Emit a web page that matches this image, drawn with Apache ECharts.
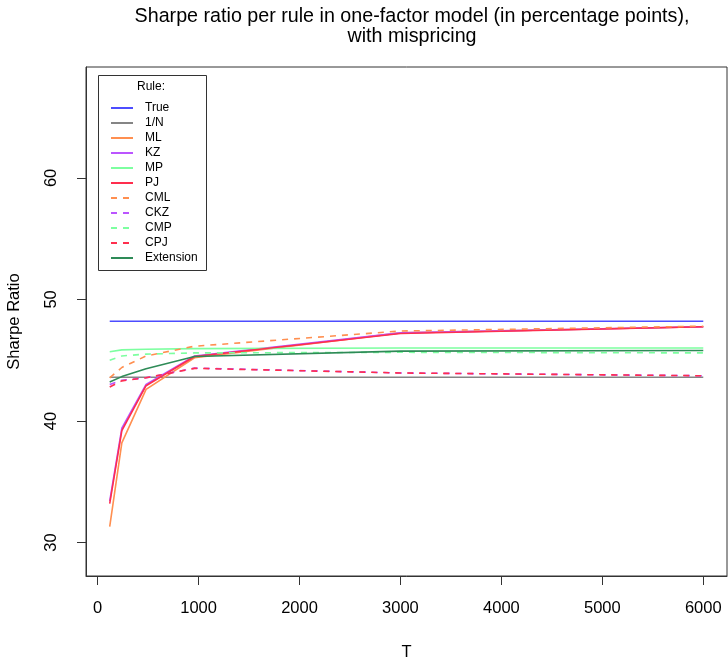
<!DOCTYPE html>
<html>
<head>
<meta charset="utf-8">
<script src="https://cdn.jsdelivr.net/npm/echarts@6/dist/echarts.min.js"></script>
<style>html,body{margin:0;padding:0;background:#fff}#c{width:728px;height:658px}</style>
</head>
<body>
<div id="c"></div>
<script>
const T = [120, 240, 480, 960, 3000, 6000];
const xTicks = [0, 1000, 2000, 3000, 4000, 5000, 6000];
const yTicks = [30, 40, 50, 60];
const TRUE_SR = [48.2, 48.2, 48.2, 48.2, 48.2, 48.2];
const ONE_N = [43.6, 43.6, 43.6, 43.6, 43.6, 43.6];
const ML  = [31.3, 38.2, 42.6, 45.2, 47.25, 47.75];
const KZ  = [33.4, 39.4, 43.0, 45.35, 47.25, 47.75];
const MP  = [45.7, 45.85, 45.9, 45.95, 46.0, 46.0];
const PJ  = [33.2, 39.2, 42.9, 45.3, 47.2, 47.75];
const CML = [43.55, 44.4, 45.35, 46.15, 47.4, 47.8];
const CKZ = [43.0, 43.35, 43.55, 44.35, 43.95, 43.72];
const CMP = [45.0, 45.35, 45.5, 45.6, 45.65, 45.6];
const CPJ = [42.8, 43.3, 43.55, 44.33, 43.95, 43.72];
const EXT = [43.2, 43.65, 44.3, 45.3, 45.75, 45.8];

const FONT = 'Liberation Sans, Arial, sans-serif';
const defs = [
  ['True', TRUE_SR, '#4d4dff', 'solid'],
  ['1/N', ONE_N, '#858585', 'solid'],
  ['ML', ML, '#ff8f50', 'solid'],
  ['KZ', KZ, '#bb55ff', 'solid'],
  ['MP', MP, '#7dffa0', 'solid'],
  ['PJ', PJ, '#ff2e4e', 'solid'],
  ['CML', CML, '#ff8f50', [6, 6]],
  ['CKZ', CKZ, '#bb55ff', [6, 6]],
  ['CMP', CMP, '#7dffa0', [6, 6]],
  ['CPJ', CPJ, '#ff2e4e', [6, 6]],
  ['Extension', EXT, '#2e8b57', 'solid']
];
const series = defs.map(d => ({
  name: d[0], type: 'line', symbol: 'none', showSymbol: false, animation: false,
  data: T.map((t, i) => [t, d[1][i]]),
  lineStyle: { color: d[2], width: 1.6, type: d[3] },
  itemStyle: { color: d[2] }
}));

const chart = echarts.init(document.getElementById('c'));
chart.setOption({
  animation: false,
  textStyle: { fontFamily: FONT },
  title: {
    text: 'Sharpe ratio per rule in one-factor model (in percentage points),\nwith mispricing',
    left: 407, top: 2, textAlign: 'center',
    textStyle: { fontFamily: FONT, fontSize: 19.7, fontWeight: 'normal', color: '#000', lineHeight: 20 }
  },
  grid: { left: 86, top: 67, right: 1, bottom: 82, show: true, borderColor: '#333', borderWidth: 1, backgroundColor: 'transparent', outerBoundsMode: 'none', containLabel: false },
  xAxis: {
    type: 'value', min: -115, max: 6235,
    splitLine: { show: false },
    axisLine: { show: true, onZero: false, lineStyle: { color: '#333', width: 1 } },
    axisTick: { show: true, length: 9, customValues: xTicks, lineStyle: { color: '#333' } },
    axisLabel: { customValues: xTicks, margin: 24, fontSize: 16.5, color: '#000', fontFamily: FONT, formatter: v => String(v) },
    name: 'T', nameLocation: 'middle', nameGap: 68,
    nameTextStyle: { fontSize: 16.5, color: '#000', fontFamily: FONT }
  },
  yAxis: {
    type: 'value', min: 27.24, max: 69.13,
    splitLine: { show: false },
    axisLine: { show: true, onZero: false, lineStyle: { color: '#333', width: 1 } },
    axisTick: { show: true, length: 9, customValues: yTicks, lineStyle: { color: '#333' } },
    axisLabel: { customValues: yTicks, rotate: 90, margin: 26, fontSize: 16.5, color: '#000', fontFamily: FONT, formatter: v => String(v) },
    name: 'Sharpe Ratio', nameLocation: 'middle', nameGap: 63, nameRotate: 90,
    nameTextStyle: { fontSize: 16.5, color: '#000', fontFamily: FONT }
  },
  legend: {
    orient: 'vertical', left: 105, top: 97,
    itemWidth: 22, itemHeight: 10, itemGap: 3,
    data: defs.map(d => d[0]),
    itemStyle: { opacity: 0 },
    textStyle: { fontSize: 12, color: '#000', fontFamily: FONT, padding: [0, 0, 0, 7] },
    selectedMode: false
  },
  graphic: [
    { type: 'rect', shape: { x: 98.5, y: 75.5, width: 108, height: 195 }, style: { fill: 'transparent', stroke: '#333', lineWidth: 1 }, z: 10 },
    { type: 'text', left: 137, top: 81, style: { text: 'Rule:', fontSize: 12, fill: '#000', fontFamily: FONT }, z: 10 }
  ],
  series: series
});
</script>
</body>
</html>
